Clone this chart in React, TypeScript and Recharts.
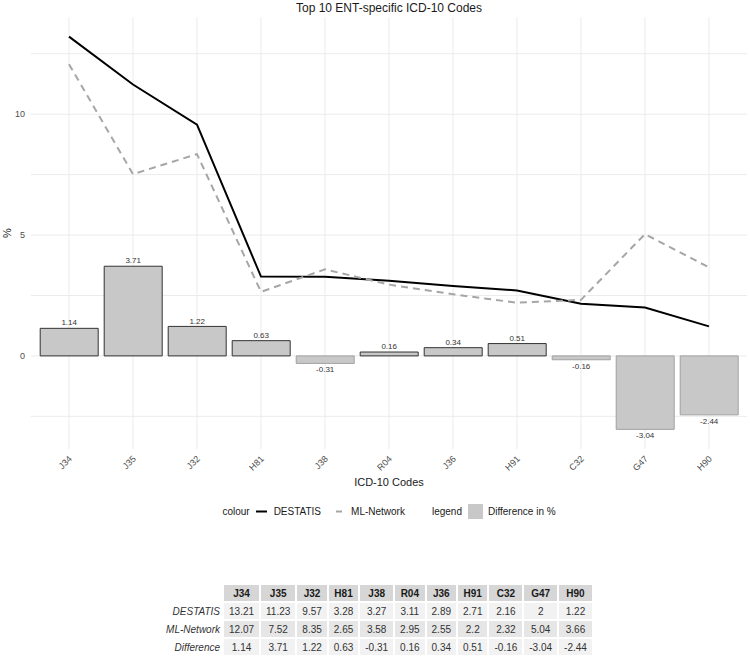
import React from 'react';
import { ComposedChart, Bar, Line, XAxis, YAxis, CartesianGrid, Legend, Cell, LabelList } from 'recharts';

const codes = ['J34', 'J35', 'J32', 'H81', 'J38', 'R04', 'J36', 'H91', 'C32', 'G47', 'H90'];
const destatis = [13.21, 11.23, 9.57, 3.28, 3.27, 3.11, 2.89, 2.71, 2.16, 2, 1.22];
const mlNetwork = [12.07, 7.52, 8.35, 2.65, 3.58, 2.95, 2.55, 2.2, 2.32, 5.04, 3.66];
const difference = [1.14, 3.71, 1.22, 0.63, -0.31, 0.16, 0.34, 0.51, -0.16, -3.04, -2.44];
const yTicks = [-2.5, 0, 2.5, 5, 7.5, 10, 12.5];

const rows = codes.map((code, i) => ({
  code,
  destatis: destatis[i],
  mlNetwork: mlNetwork[i],
  diff: difference[i],
}));

const tableRows = [
  { label: 'DESTATIS', values: destatis },
  { label: 'ML-Network', values: mlNetwork },
  { label: 'Difference', values: difference },
];

// 5% padding on both ends of the value range
const lo = Math.min(...destatis, ...mlNetwork, ...difference);
const hi = Math.max(...destatis, ...mlNetwork, ...difference);
const pad = (hi - lo) * 0.05;

const FONT = '"Liberation Sans", Arial, Helvetica, sans-serif';
const BAR_FILL = '#c8c8c8';

const AngledTick = (props: any) => {
  const { x, y, payload } = props;
  const ax = x - 1;
  return (
    <text
      x={ax}
      y={y}
      dy="0.71em"
      textAnchor="end"
      transform={`rotate(-45, ${ax}, ${y})`}
      fontSize={9}
      fill="#4d4d4d"
      fontFamily={FONT}
    >
      {payload.value}
    </text>
  );
};

const DiffLabel = (props: any) => {
  const { x, y, width, height, value } = props;
  const top = Math.min(y, y + height);
  const bottom = Math.max(y, y + height);
  const ty = value >= 0 ? top - 5 : bottom + 7;
  return (
    <text x={x + width / 2} y={ty} textAnchor="middle" dominantBaseline="middle" fontSize={8} fill="#333" fontFamily={FONT}>
      {value}
    </text>
  );
};

const PercentLabel = (props: any) => {
  const { viewBox } = props;
  const cx = 8;
  const cy = viewBox.y + viewBox.height / 2;
  return (
    <text x={cx} y={cy} textAnchor="middle" dominantBaseline="middle" transform={`rotate(-90, ${cx}, ${cy})`} fontSize={11} fill="#1a1a1a" fontFamily={FONT}>
      %
    </text>
  );
};

const LegendBox = () => (
  <div style={{ display: 'flex', alignItems: 'center', justifyContent: 'center', fontFamily: FONT, fontSize: 10, color: '#1a1a1a', height: 17 }}>
    <span style={{ marginRight: 3 }}>colour</span>
    <svg width={17} height={17}>
      <line x1={3} y1={8.5} x2={14} y2={8.5} stroke="#000" strokeWidth={2} />
    </svg>
    <span style={{ marginLeft: 4, marginRight: 9 }}>DESTATIS</span>
    <svg width={17} height={17}>
      <line x1={3} y1={8.5} x2={14} y2={8.5} stroke="#a6a6a6" strokeWidth={2} strokeDasharray="0 3 6 10" />
    </svg>
    <span style={{ marginLeft: 4, marginRight: 27 }}>ML-Network</span>
    <span style={{ marginRight: 5 }}>legend</span>
    <svg width={17} height={17}>
      <rect x={1} y={1} width={15} height={15} fill={BAR_FILL} />
    </svg>
    <span style={{ marginLeft: 4 }}>Difference in %</span>
  </div>
);

const cellStyle: React.CSSProperties = {
  padding: '0 5px',
  height: 16,
  textAlign: 'center',
  whiteSpace: 'nowrap',
};

const SummaryTable = () => (
  <table style={{ borderCollapse: 'separate', borderSpacing: 2, fontFamily: FONT, fontSize: 10, color: '#333' }}>
    <thead>
      <tr>
        <th />
        {codes.map((c) => (
          <th key={c} style={{ ...cellStyle, background: '#d6d6d6', color: '#1a1a1a', fontWeight: 'bold' }}>
            {c}
          </th>
        ))}
      </tr>
    </thead>
    <tbody>
      {tableRows.map((r, ri) => (
        <tr key={r.label}>
          <td style={{ ...cellStyle, textAlign: 'right', fontStyle: 'italic', padding: '0 2px 0 4px' }}>{r.label}</td>
          {r.values.map((v, i) => (
            <td key={codes[i]} style={{ ...cellStyle, background: ri % 2 === 0 ? '#f2f2f2' : '#e6e6e6' }}>
              {String(v)}
            </td>
          ))}
        </tr>
      ))}
    </tbody>
  </table>
);

export default function App() {
  return (
    <div style={{ position: 'absolute', left: 0, top: 0, width: 750, height: 660, background: '#fff', fontFamily: FONT }}>
      <div style={{ position: 'absolute', top: 0, left: 0, width: 778, textAlign: 'center', fontSize: 12, lineHeight: '16px', color: '#1a1a1a' }}>
        Top 10 ENT-specific ICD-10 Codes
      </div>
      <ComposedChart width={750} height={530} data={rows} margin={{ top: 17, right: 3, bottom: 41, left: 10 }} barCategoryGap="5%">
        {/* grid only at tick positions, no frame at the plot edges */}
        <CartesianGrid stroke="#ebebeb" strokeWidth={1} syncWithTicks />
        <XAxis
          dataKey="code"
          padding={{ left: 6, right: 6 }}
          axisLine={false}
          tickLine={false}
          tickSize={0}
          tickMargin={6}
          height={40}
          interval={0}
          tick={<AngledTick />}
          label={{ value: 'ICD-10 Codes', position: 'insideBottom', offset: 3, fontSize: 11, fill: '#1a1a1a', fontFamily: FONT }}
        />
        <YAxis
          type="number"
          domain={[lo - pad, hi + pad]}
          ticks={yTicks}
          interval={0}
          width={21}
          axisLine={false}
          tickLine={false}
          tickSize={0}
          tickMargin={6}
          tick={{ fontSize: 9, fill: '#4d4d4d', fontFamily: FONT }}
          tickFormatter={(v: number) => (v % 5 === 0 ? String(v) : '')}
          label={<PercentLabel />}
        />
        <Legend
          verticalAlign="middle"
          align="center"
          layout="horizontal"
          wrapperStyle={{ top: 503, left: 0, width: 778 }}
          content={<LegendBox />}
        />
        <Bar dataKey="diff" name="Difference in %" fill={BAR_FILL} isAnimationActive={false}>
          {rows.map((r) => (
            <Cell key={r.code} fill={BAR_FILL} stroke={r.diff >= 0 ? '#333333' : '#a0a0a0'} strokeWidth={1} />
          ))}
          <LabelList dataKey="diff" content={<DiffLabel />} />
        </Bar>
        <Line type="linear" dataKey="destatis" name="DESTATIS" stroke="#000" strokeWidth={2} dot={false} activeDot={false} isAnimationActive={false} />
        <Line type="linear" dataKey="mlNetwork" name="ML-Network" stroke="#a6a6a6" strokeWidth={2} strokeDasharray="7 5" dot={false} activeDot={false} isAnimationActive={false} />
      </ComposedChart>
      <div style={{ position: 'absolute', top: 583, left: 0, width: 754, display: 'flex', justifyContent: 'center' }}>
        <SummaryTable />
      </div>
    </div>
  );
}
